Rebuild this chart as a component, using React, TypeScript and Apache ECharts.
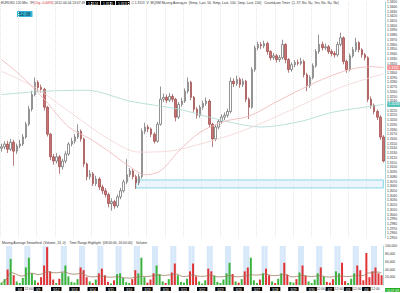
import React, { useEffect, useRef } from "react";
import * as echarts from "echarts";

const DAYS = ["3/7","3/8","3/9","3/12","3/13","3/14","3/15","3/16","3/19","3/20","3/21","3/22","3/23","3/26","3/27","3/28","3/29","3/30","4/2","4/3","4/4"];
const HOURS = ["00:00","04:00","08:00","12:00","16:00","20:00"];
const BAND_HOURS = ["08:00","12:00"];
const NOON_LABEL_DAYS = ["3/8","3/30","4/2","4/3","4/4"];
const FIRST_OPEN = 1.3140;

const CLOSE = [
1.3143,1.3149,1.3138,1.3153,1.3134,1.3145,
1.3149,1.3164,1.3191,1.3223,1.3254,1.3280,
1.3269,1.3265,1.3227,1.3170,1.3122,1.3113,
1.3122,1.3101,1.3113,1.3128,1.3149,1.3155,
1.3164,1.3176,1.3160,1.3107,1.3080,1.3086,
1.3065,1.3075,1.3058,1.3050,1.3042,1.3023,
1.3027,1.3018,1.3037,1.3050,1.3069,1.3084,
1.3092,1.3080,1.3067,1.3080,1.3176,1.3185,
1.3181,1.3170,1.3155,1.3191,1.3244,1.3248,
1.3242,1.3250,1.3244,1.3206,1.3233,1.3240,
1.3261,1.3280,1.3248,1.3223,1.3210,1.3227,
1.3235,1.3240,1.3191,1.3160,1.3185,1.3197,
1.3206,1.3210,1.3218,1.3282,1.3277,1.3286,
1.3275,1.3282,1.3244,1.3227,1.3307,1.3353,
1.3360,1.3357,1.3362,1.3345,1.3332,1.3336,
1.3328,1.3332,1.3360,1.3328,1.3307,1.3317,
1.3322,1.3320,1.3324,1.3296,1.3273,1.3290,
1.3315,1.3345,1.3360,1.3353,1.3355,1.3345,
1.3341,1.3338,1.3360,1.3374,1.3324,1.3307,
1.3336,1.3349,1.3364,1.3349,1.3338,1.3332,
1.3244,1.3231,1.3218,1.3206,1.3164,1.3113];

const HIGH = [
1.3150,1.3155,1.3156,1.3160,1.3158,1.3150,
1.3158,1.3170,1.3196,1.3230,1.3262,1.3290,
1.3284,1.3275,1.3268,1.3230,1.3173,1.3128,
1.3130,1.3126,1.3118,1.3134,1.3153,1.3162,
1.3170,1.3191,1.3180,1.3163,1.3110,1.3094,
1.3090,1.3082,1.3079,1.3063,1.3056,1.3046,
1.3034,1.3031,1.3042,1.3056,1.3074,1.3117,
1.3098,1.3096,1.3084,1.3086,1.3182,1.3194,
1.3190,1.3184,1.3174,1.3196,1.3271,1.3256,
1.3254,1.3257,1.3255,1.3247,1.3238,1.3247,
1.3267,1.3290,1.3283,1.3251,1.3227,1.3232,
1.3241,1.3248,1.3244,1.3194,1.3190,1.3202,
1.3212,1.3216,1.3224,1.3290,1.3288,1.3294,
1.3290,1.3288,1.3285,1.3248,1.3312,1.3358,
1.3366,1.3365,1.3368,1.3366,1.3348,1.3342,
1.3340,1.3338,1.3370,1.3363,1.3331,1.3322,
1.3327,1.3328,1.3332,1.3328,1.3300,1.3295,
1.3320,1.3350,1.3381,1.3366,1.3362,1.3359,
1.3350,1.3346,1.3366,1.3385,1.3377,1.3328,
1.3341,1.3355,1.3374,1.3367,1.3352,1.3342,
1.3335,1.3250,1.3235,1.3222,1.3210,1.3168];

const LOW = [
1.3133,1.3138,1.3130,1.3134,1.3103,1.3128,
1.3140,1.3145,1.3160,1.3187,1.3218,1.3250,
1.3262,1.3258,1.3220,1.3165,1.3115,1.3105,
1.3108,1.3086,1.3095,1.3108,1.3124,1.3144,
1.3150,1.3160,1.3154,1.3100,1.3072,1.3074,
1.3060,1.3060,1.3052,1.3043,1.3036,1.3015,
1.3008,1.3012,1.3014,1.3032,1.3046,1.3064,
1.3079,1.3074,1.3054,1.3062,1.3076,1.3170,
1.3174,1.3164,1.3150,1.3152,1.3188,1.3238,
1.3236,1.3238,1.3238,1.3197,1.3202,1.3228,
1.3236,1.3256,1.3242,1.3216,1.3203,1.3205,
1.3222,1.3230,1.3185,1.3143,1.3155,1.3180,
1.3192,1.3200,1.3205,1.3214,1.3270,1.3272,
1.3268,1.3270,1.3238,1.3202,1.3224,1.3302,
1.3348,1.3350,1.3352,1.3338,1.3326,1.3327,
1.3322,1.3323,1.3328,1.3320,1.3300,1.3302,
1.3312,1.3315,1.3316,1.3290,1.3261,1.3268,
1.3286,1.3311,1.3340,1.3347,1.3348,1.3340,
1.3335,1.3332,1.3334,1.3356,1.3318,1.3300,
1.3303,1.3332,1.3344,1.3343,1.3332,1.3326,
1.3238,1.3224,1.3212,1.3200,1.3158,1.3110];

const VOLUME = [
6000,15000,40000,67000,25000,9000,
5000,18000,45000,70000,30000,12000,
6000,20000,50000,97000,35000,14000,
5000,16000,32000,50000,22000,8000,
6000,15000,45000,38000,20000,9000,
5000,14000,30000,42000,25000,8000,
4000,12000,28000,30000,18000,7000,
5000,15000,38000,30000,70000,20000,
6000,14000,30000,50000,28000,9000,
5000,15000,32000,55000,25000,8000,
6000,16000,35000,55000,22000,9000,
4000,12000,42000,35000,24000,8000,
5000,14000,30000,57000,28000,9000,
6000,15000,35000,45000,70000,12000,
5000,14000,30000,42000,25000,9000,
5000,16000,30000,57000,26000,8000,
6000,15000,32000,50000,24000,9000,
5000,14000,30000,45000,22000,8000,
6000,15000,35000,30000,57000,10000,
5000,16000,30000,50000,38000,12000,
82000,20000,35000,45000,30000,25000];

// moving averages: [bar index, value]
const MA50 = [[0,1.3328],[6,1.3296],[14,1.3244],[22,1.3185],[29,1.3160],[35,1.3134],[42,1.3101],[47,1.3084],[52,1.3092],[58,1.3134],[65,1.3174],[73,1.3197],[81,1.3208],[89,1.3235],[98,1.3265],[105,1.3286],[114,1.3307],[121,1.3313],[125,1.3311]];
const MA100 = [[0,1.3303],[11,1.3269],[21,1.3223],[35,1.3160],[45,1.3132],[55,1.3134],[65,1.3149],[75,1.3168],[85,1.3193],[98,1.3231],[111,1.3269],[125,1.3298]];
const MA200 = [[0,1.3254],[14,1.3261],[28,1.3263],[42,1.3240],[58,1.3223],[68,1.3206],[78,1.3191],[85,1.3185],[98,1.3197],[108,1.3216],[121,1.3229],[125,1.3233]];

const HIGHLIGHT_FROM = 44;
const HIGHLIGHT_HIGH = 1.3073;
const HIGHLIGHT_LOW = 1.3056;
const VOL_MA_PERIOD = 13;
const VOL_MAX = 100000;

const UP_FILL = "#ffffff", UP_BORDER = "#666666";
const DOWN_FILL = "#c97272", DOWN_BORDER = "#9a4545";
const VOL_UP = "#3cb43c", VOL_DOWN = "#e03333";

export default function App() {
  const ref = useRef<HTMLDivElement>(null);
  useEffect(() => {
    const chart = echarts.init(ref.current!, null, { renderer: "svg" });
    const cats = DAYS.flatMap((d) => HOURS.map((h) => `${d} ${h}`));
    const opens = CLOSE.map((c, i) => (i === 0 ? FIRST_OPEN : CLOSE[i - 1]));
    const candles = CLOSE.map((c, i) => [opens[i], c, LOW[i], HIGH[i]]);
    const volData = VOLUME.map((v, i) => ({
      value: v,
      itemStyle: { color: CLOSE[i] >= opens[i] ? VOL_UP : VOL_DOWN },
    }));
    const volMa = VOLUME.map((v, i) => {
      const s = Math.max(0, i - VOL_MA_PERIOD + 1);
      const w = VOLUME.slice(s, i + 1);
      return w.reduce((a, b) => a + b, 0) / w.length;
    });
    const bandData = cats.map((c) => (BAND_HOURS.includes(c.split(" ")[1]) ? VOL_MAX : null));
    const maData = (arr: number[][]) => arr.map(([i, v]) => [cats[i], v]);
    const last = CLOSE.length - 1;
    const font = "Liberation Sans, Arial, sans-serif";
    const tag = (bg: string) => ({
      backgroundColor: bg, color: "#fff", fontSize: 3.6, padding: [1, 1, 0, 1], fontFamily: font,
    });

    const option: any = {
      animation: false,
      backgroundColor: "#ffffff",
      textStyle: { fontFamily: font },
      grid: [
        { left: 0, right: 15, top: 2, height: 236 },
        { left: 0, right: 15, top: 246, height: 39 },
      ],
      xAxis: [
        {
          type: "category", data: cats, gridIndex: 0, boundaryGap: true,
          axisLine: { show: false }, axisTick: { show: false }, axisLabel: { show: false },
          splitLine: {
            show: true,
            interval: (i: number, v: string) => v.endsWith("00:00"),
            lineStyle: { color: "#e6e6e6", type: "dotted", width: 1 },
          },
        },
        {
          type: "category", data: cats, gridIndex: 1, boundaryGap: true,
          axisLine: { show: false }, axisTick: { show: false },
          axisLabel: {
            interval: (i: number, v: string) =>
              (v.endsWith(" 00:00") && i > 0) ||
              (v.endsWith(" 12:00") && NOON_LABEL_DAYS.includes(v.split(" ")[0])),
            formatter: (v: string) => {
              const [d, h] = v.split(" ");
              return h === "00:00" ? `{d|${d}}` : `{t|${h}}`;
            },
            margin: 2,
            rich: {
              d: { backgroundColor: "#000", color: "#fff", fontSize: 3.3, padding: [1, 2, 0, 2], fontFamily: font },
              t: { color: "#333", fontSize: 3.3, fontFamily: font },
            },
          },
        },
        {
          type: "category", data: cats, gridIndex: 1, boundaryGap: true, show: false,
        },
      ],
      yAxis: [
        {
          type: "value", gridIndex: 0, position: "right", min: 1.295, max: 1.345, interval: 0.001,
          axisLine: { show: true, lineStyle: { color: "#a8d8d8" } },
          axisTick: { show: false }, splitLine: { show: false },
          axisLabel: { fontSize: 3.3, color: "#333", margin: 2, formatter: (v: number) => v.toFixed(4) },
        },
        {
          type: "value", gridIndex: 1, position: "right", min: 0, max: VOL_MAX, interval: 20000,
          axisLine: { show: true, lineStyle: { color: "#a8d8d8" } },
          axisTick: { show: false }, splitLine: { show: false },
          axisLabel: { fontSize: 3.3, color: "#333", margin: 2, showMinLabel: false },
        },
      ],
      series: [
        {
          type: "line", name: "MA200", xAxisIndex: 0, yAxisIndex: 0, data: maData(MA200),
          smooth: 0.3, symbol: "none", lineStyle: { color: "#a9d9d0", width: 0.8 },
          endLabel: { show: true, distance: 4, formatter: (p: any) => Number(p.value[1]).toFixed(4), ...tag("#4fc1b9") },
        },
        {
          type: "line", name: "MA100", xAxisIndex: 0, yAxisIndex: 0, data: maData(MA100),
          smooth: 0.3, symbol: "none", lineStyle: { color: "#f3d3d3", width: 0.8 },
        },
        {
          type: "line", name: "MA50", xAxisIndex: 0, yAxisIndex: 0, data: maData(MA50),
          smooth: 0.3, symbol: "none", lineStyle: { color: "#efb4b4", width: 0.8 },
          endLabel: { show: true, distance: 4, formatter: (p: any) => Number(p.value[1]).toFixed(4), ...tag("#f08a8a") },
        },
        {
          type: "candlestick", name: "EURUSD", xAxisIndex: 0, yAxisIndex: 0, data: candles,
          barWidth: 2,
          itemStyle: { color: UP_FILL, color0: DOWN_FILL, borderColor: UP_BORDER, borderColor0: DOWN_BORDER, borderWidth: 0.7 },
          markArea: {
            silent: true,
            itemStyle: { color: "rgba(228,240,252,0.7)", borderColor: "#86d8e2", borderWidth: 1 },
            data: [[{ xAxis: cats[HIGHLIGHT_FROM], yAxis: HIGHLIGHT_HIGH }, { xAxis: cats[last], yAxis: HIGHLIGHT_LOW }]],
          },
          markLine: {
            silent: true, symbol: "none", lineStyle: { opacity: 0 },
            label: { position: "end", distance: 2, formatter: (p: any) => Number(p.value).toFixed(4), ...tag("#000") },
            data: [{ yAxis: CLOSE[last] }],
          },
        },
        {
          type: "bar", name: "Time Range Highlight", xAxisIndex: 2, yAxisIndex: 1, data: bandData,
          barWidth: "100%", itemStyle: { color: "#d7e8fa" }, silent: true, z: 1,
        },
        {
          type: "bar", name: "Volume", xAxisIndex: 1, yAxisIndex: 1, data: volData, barWidth: 2, z: 2,
          markLine: {
            silent: true, symbol: "none", lineStyle: { opacity: 0 },
            label: { position: "end", distance: 2, formatter: (p: any) => String(p.value), ...tag("#000") },
            data: [{ yAxis: VOLUME[last] }],
          },
        },
        {
          type: "line", name: "Volume MA", xAxisIndex: 1, yAxisIndex: 1, data: volMa, z: 3,
          symbol: "none", smooth: 0.2, lineStyle: { color: "#9a7b5a", width: 0.8 },
        },
      ],
      graphic: [
        {
          type: "text", left: 1, top: 1,
          style: {
            text: "{a|EURUSD 120 Min  #F}{r|(Chg -0.0093)}{a| 2012-04-04 13:07:49 }{b|1.3124}{a| }{b|1.3135}{a| }{b|1.3111}{a|  C 1.3113  V  MQSM Moving Averages  (Simp, Last, 50, Simp, Last, 100, Simp, Last, 200)   Countdown Timer  (1, 37, No, No, Yes, No, No, No)}",
            rich: {
              a: { fill: "#333", fontSize: 3.3, fontFamily: font },
              r: { fill: "#d03030", fontSize: 3.3, fontFamily: font },
              b: { fill: "#fff", backgroundColor: "#000", fontSize: 3.3, padding: [1, 2, 0, 2], fontFamily: font },
            },
          },
        },
        {
          type: "text", left: 17, top: 11,
          style: { text: "52:08", fontSize: 4.6, fill: "#0a2a3a", backgroundColor: "#35b8d8", padding: [1, 2, 0, 2], fontFamily: font },
        },
        {
          type: "text", left: 2, top: 241,
          style: {
            text: "Moving Average Smoothed  (Volume, 13, 0)    Time Range Highlight  (08:00:00, 16:00:00)    Volume",
            fontSize: 3.3, fill: "#333", fontFamily: font,
          },
        },
        {
          type: "text", right: 0, bottom: 1,
          style: { text: "13:07:49", fontSize: 3.3, fill: "#fff", backgroundColor: "#22b022", padding: [1, 1, 0, 1], fontFamily: font },
        },
      ],
    };
    chart.setOption(option);
    return () => chart.dispose();
  }, []);
  return <div ref={ref} style={{ position: "fixed", left: 0, top: 0, width: 400, height: 293 }} />;
}
